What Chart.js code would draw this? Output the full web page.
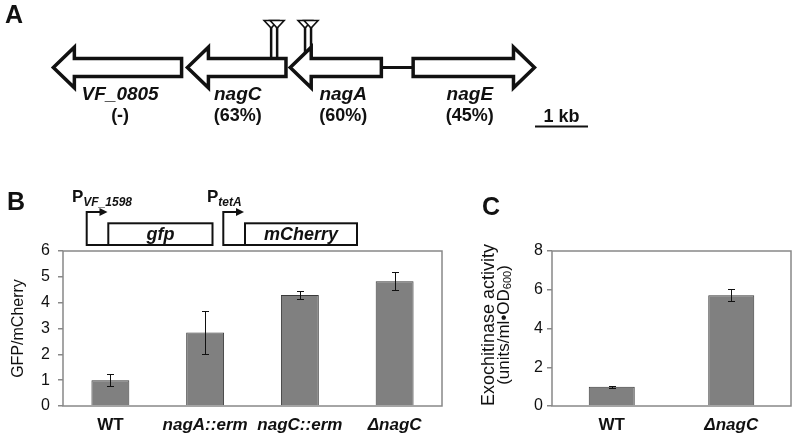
<!DOCTYPE html>
<html><head><meta charset="utf-8">
<script src="https://cdn.jsdelivr.net/npm/chart.js@4.4.1/dist/chart.umd.min.js"></script>
<style>
html,body{margin:0;padding:0;background:#fff;width:792px;height:438px;overflow:hidden;}
canvas{position:absolute;}
</style></head><body>
<canvas id="cA" width="792" height="150" style="left:0;top:0;width:792px;height:150px"></canvas>
<canvas id="cB" width="460" height="258" style="left:0;top:180px;width:460px;height:258px"></canvas>
<canvas id="cC" width="332" height="258" style="left:460px;top:180px;width:332px;height:258px"></canvas>
<script>
// ---------- DATA ----------
// Panel A: gene map (kb)
const geneNames = ['VF_0805', 'nagC', 'nagA', 'nagE'];
const geneIdentity = ['(-)', '(63%)', '(60%)', '(45%)'];
const geneStartKb = [0.05, 2.58, 4.52, 6.84];
const geneEndKb = [2.47, 4.44, 6.24, 9.13];
const geneStrand = [-1, -1, -1, 1];
const geneLabelKb = [1.31, 3.53, 5.52, 7.91];
const insertionKb = [4.16, 4.80];
const scaleBarKb = [9.14, 10.14];
const scaleBarLabel = '1 kb';

// Panel B
const strainsB = ['WT', 'nagA::erm', 'nagC::erm', '\u0394nagC'];
const ratioB = [1.00, 2.85, 4.30, 4.83];
const ratioErrB = [0.23, 0.82, 0.16, 0.35];
const yTicksB = [0, 1, 2, 3, 4, 5, 6];

// Panel C
const strainsC = ['WT', '\u0394nagC'];
const activityC = [1.00, 5.72];
const activityErrC = [0.05, 0.30];
const yTicksC = [0, 2, 4, 6, 8];

// ---------- STYLE ----------
const FONT = "'Liberation Sans', Arial, Helvetica, sans-serif";
Chart.defaults.font.family = FONT;
Chart.defaults.color = '#111';
const INK = '#111';
const BAR_FILL = '#808080';
const BAR_EDGE = '#3a3a3a';
const AXIS_GREY = '#888';

function font(size, weight, style) {
  return (style || 'normal') + ' ' + (weight || 'normal') + ' ' + size + 'px ' + FONT;
}
function panelLetter(ctx, t, x, y) {
  ctx.save(); ctx.fillStyle = INK; ctx.font = font(25, 'bold');
  ctx.textAlign = 'left'; ctx.textBaseline = 'alphabetic';
  ctx.fillText(t, x, y); ctx.restore();
}

// ---------- PANEL A ----------
const geneMapPlugin = {
  id: 'geneMap',
  afterDraw(chart) {
    const ctx = chart.ctx;
    const xs = chart.scales.x, ys = chart.scales.y;
    const px = v => xs.getPixelForValue(v);
    const py = v => ys.getPixelForValue(v);
    const cy = py(67.5), bodyH = 9.05, headH = 20.3, headL = 21;
    ctx.save();
    ctx.strokeStyle = INK; ctx.lineJoin = 'miter'; ctx.miterLimit = 10;
    // insertion sticks (behind genes)
    ctx.lineWidth = 2.5;
    insertionKb.forEach(k => {
      [0, 6].forEach(off => {
        const x = px(k) + off;
        ctx.beginPath(); ctx.moveTo(x, py(27)); ctx.lineTo(x, cy); ctx.stroke();
      });
    });
    // intergenic line
    ctx.lineWidth = 3;
    ctx.beginPath(); ctx.moveTo(px(geneEndKb[2]), cy); ctx.lineTo(px(geneStartKb[3]), cy); ctx.stroke();
    // gene arrows
    ctx.lineWidth = 3.5;
    geneNames.forEach((g, i) => {
      const s = px(geneStartKb[i]), e = px(geneEndKb[i]);
      ctx.beginPath();
      if (geneStrand[i] < 0) {
        ctx.moveTo(s, cy); ctx.lineTo(s + headL, cy - headH); ctx.lineTo(s + headL, cy - bodyH);
        ctx.lineTo(e, cy - bodyH); ctx.lineTo(e, cy + bodyH); ctx.lineTo(s + headL, cy + bodyH);
        ctx.lineTo(s + headL, cy + headH);
      } else {
        ctx.moveTo(e, cy); ctx.lineTo(e - headL, cy - headH); ctx.lineTo(e - headL, cy - bodyH);
        ctx.lineTo(s, cy - bodyH); ctx.lineTo(s, cy + bodyH); ctx.lineTo(e - headL, cy + bodyH);
        ctx.lineTo(e - headL, cy + headH);
      }
      ctx.closePath();
      ctx.fillStyle = '#fff'; ctx.fill(); ctx.stroke();
    });
    // insertion triangles
    ctx.lineWidth = 1.6;
    insertionKb.forEach(k => {
      [0, 6].forEach(off => {
        const x = px(k) + off;
        ctx.beginPath(); ctx.moveTo(x - 7, py(20.5)); ctx.lineTo(x + 7, py(20.5)); ctx.lineTo(x, py(28));
        ctx.closePath(); ctx.fillStyle = '#fff'; ctx.fill(); ctx.stroke();
      });
    });
    // labels
    ctx.fillStyle = INK; ctx.textAlign = 'center'; ctx.textBaseline = 'middle';
    geneNames.forEach((g, i) => {
      ctx.font = font(19, 'bold', 'italic');
      ctx.fillText(g, px(geneLabelKb[i]), py(95));
      ctx.font = font(18, 'bold');
      ctx.fillText(geneIdentity[i], px(geneLabelKb[i]), py(116.5));
    });
    // scale bar
    ctx.lineWidth = 2;
    ctx.beginPath(); ctx.moveTo(px(scaleBarKb[0]), py(126.5)); ctx.lineTo(px(scaleBarKb[1]), py(126.5)); ctx.stroke();
    ctx.font = font(18, 'bold');
    ctx.fillText(scaleBarLabel, (px(scaleBarKb[0]) + px(scaleBarKb[1])) / 2, py(117));
    ctx.restore();
    panelLetter(ctx, 'A', 5, 23);
  }
};

new Chart(document.getElementById('cA'), {
  type: 'scatter',
  data: { datasets: [{ data: [] }] },
  options: {
    responsive: false, animation: false, devicePixelRatio: 1,
    layout: { padding: 0 },
    plugins: { legend: { display: false }, tooltip: { enabled: false } },
    scales: {
      x: { type: 'linear', min: -0.957, max: 13.99, display: false },
      y: { type: 'linear', min: 0, max: 150, reverse: true, display: false }
    }
  },
  plugins: [geneMapPlugin]
});

// ---------- shared plugins ----------
function boxPlugin() {
  return {
    id: 'box',
    afterDraw(chart) {
      const { ctx, chartArea: a } = chart;
      ctx.save(); ctx.strokeStyle = AXIS_GREY; ctx.lineWidth = 1.5;
      ctx.strokeRect(a.left, a.top, a.right - a.left, a.bottom - a.top);
      ctx.restore();
    }
  };
}
function errPlugin(vals, errs) {
  return {
    id: 'errbars',
    afterDatasetsDraw(chart) {
      const meta = chart.getDatasetMeta(0), y = chart.scales.y, ctx = chart.ctx;
      ctx.save(); ctx.strokeStyle = INK; ctx.lineWidth = 1;
      meta.data.forEach((bar, i) => {
        const x = Math.round(bar.x) + 0.5;
        const t = Math.round(y.getPixelForValue(vals[i] + errs[i])) + 0.5;
        const b = Math.round(y.getPixelForValue(vals[i] - errs[i])) + 0.5;
        ctx.beginPath();
        ctx.moveTo(x, t); ctx.lineTo(x, b);
        ctx.moveTo(x - 3.5, t); ctx.lineTo(x + 3.5, t);
        ctx.moveTo(x - 3.5, b); ctx.lineTo(x + 3.5, b);
        ctx.stroke();
      });
      ctx.restore();
    }
  };
}
function yAxis(ticks, width, pad) {
  return {
    min: ticks[0], max: ticks[ticks.length - 1],
    afterFit(s) { s.width = width; },
    border: { display: false },
    grid: { display: true, drawOnChartArea: false, drawTicks: true, tickLength: 5, color: AXIS_GREY, lineWidth: 1.5 },
    ticks: { stepSize: ticks[1] - ticks[0], padding: pad, color: INK, font: { size: 16 } }
  };
}
function xAxis() {
  return {
    afterFit(s) { s.height = 32; },
    border: { display: false },
    grid: { display: false, drawTicks: false },
    ticks: {
      padding: 9, color: INK, maxRotation: 0, autoSkip: false,
      font: c => ({ family: FONT, size: 17, weight: 'bold', style: (c.tick && c.tick.label === 'WT') ? 'normal' : 'italic' })
    }
  };
}

// ---------- PANEL B ----------
const constructs = [
  { p: 'VF_1598', gene: 'gfp', x0: 86.7, tip: 107.5, boxL: 108.3, boxR: 212.5, pX: 72 },
  { p: 'tetA', gene: 'mCherry', x0: 223.3, tip: 244, boxL: 245, boxR: 357, pX: 207 }
];
const constructPlugin = {
  id: 'constructs',
  afterDraw(chart) {
    const ctx = chart.ctx;
    const yArrow = 32, boxTop = 43.3, yBot = 65;
    ctx.save();
    constructs.forEach(c => {
      ctx.strokeStyle = INK; ctx.lineWidth = 2;
      ctx.beginPath();
      ctx.moveTo(c.boxL, yBot); ctx.lineTo(c.x0, yBot); ctx.lineTo(c.x0, yArrow); ctx.lineTo(c.tip - 6, yArrow);
      ctx.stroke();
      ctx.fillStyle = INK;
      ctx.beginPath(); ctx.moveTo(c.tip, yArrow); ctx.lineTo(c.tip - 8, yArrow - 4); ctx.lineTo(c.tip - 8, yArrow + 4); ctx.closePath(); ctx.fill();
      ctx.strokeRect(c.boxL, boxTop, c.boxR - c.boxL, yBot - boxTop);
      ctx.textAlign = 'center'; ctx.textBaseline = 'middle';
      ctx.font = font(18, 'bold', 'italic');
      ctx.fillText(c.gene, (c.boxL + c.boxR) / 2, 55);
      ctx.textAlign = 'left'; ctx.textBaseline = 'alphabetic';
      ctx.font = font(17, 'bold');
      ctx.fillText('P', c.pX, 22);
      const w = ctx.measureText('P').width;
      ctx.font = font(12, 'bold', 'italic');
      ctx.fillText(c.p, c.pX + w, 25.5);
    });
    ctx.restore();
    panelLetter(ctx, 'B', 7, 30);
  }
};

new Chart(document.getElementById('cB'), {
  type: 'bar',
  data: {
    labels: strainsB,
    datasets: [{ data: ratioB, backgroundColor: BAR_FILL, borderColor: BAR_EDGE, borderWidth: 1, barPercentage: 0.40, categoryPercentage: 1 }]
  },
  options: {
    responsive: false, animation: false, devicePixelRatio: 1,
    layout: { padding: { left: 0, top: 71, right: 18, bottom: 0 } },
    plugins: { legend: { display: false }, tooltip: { enabled: false } },
    scales: {
      x: xAxis(),
      y: Object.assign(yAxis(yTicksB, 63, 8), {
        title: { display: true, text: 'GFP/mCherry', color: INK, font: { size: 16 }, padding: { top: 9, bottom: 0 } }
      })
    }
  },
  plugins: [boxPlugin(), errPlugin(ratioB, ratioErrB), constructPlugin]
});

// ---------- PANEL C ----------
const titleCPlugin = {
  id: 'titleC',
  afterDraw(chart) {
    const ctx = chart.ctx;
    const cy = 145;
    ctx.save();
    ctx.fillStyle = INK;
    ctx.translate(29, cy); ctx.rotate(-Math.PI / 2);
    ctx.textAlign = 'center'; ctx.textBaseline = 'middle';
    ctx.font = font(18);
    ctx.fillText('Exochitinase activity', 0, 0);
    // second line with subscript
    const a = '(units/ml\u2022OD', sub = '600', b = ')';
    ctx.font = font(17); const wa = ctx.measureText(a).width, wb = ctx.measureText(b).width;
    ctx.font = font(11); const ws = ctx.measureText(sub).width;
    let x = -(wa + ws + wb) / 2;
    ctx.textAlign = 'left';
    ctx.font = font(17); ctx.fillText(a, x, 15); x += wa;
    ctx.font = font(11); ctx.fillText(sub, x, 19); x += ws;
    ctx.font = font(17); ctx.fillText(b, x, 15);
    ctx.restore();
    panelLetter(ctx, 'C', 22, 35);
  }
};

new Chart(document.getElementById('cC'), {
  type: 'bar',
  data: {
    labels: strainsC,
    datasets: [{ data: activityC, backgroundColor: BAR_FILL, borderColor: BAR_EDGE, borderWidth: 1, barPercentage: 0.385, categoryPercentage: 1 }]
  },
  options: {
    responsive: false, animation: false, devicePixelRatio: 1,
    layout: { padding: { left: 0, top: 71, right: 1, bottom: 0 } },
    plugins: { legend: { display: false }, tooltip: { enabled: false } },
    scales: { x: xAxis(), y: yAxis(yTicksC, 92, 4) }
  },
  plugins: [boxPlugin(), errPlugin(activityC, activityErrC), titleCPlugin]
});
</script>
</body></html>
